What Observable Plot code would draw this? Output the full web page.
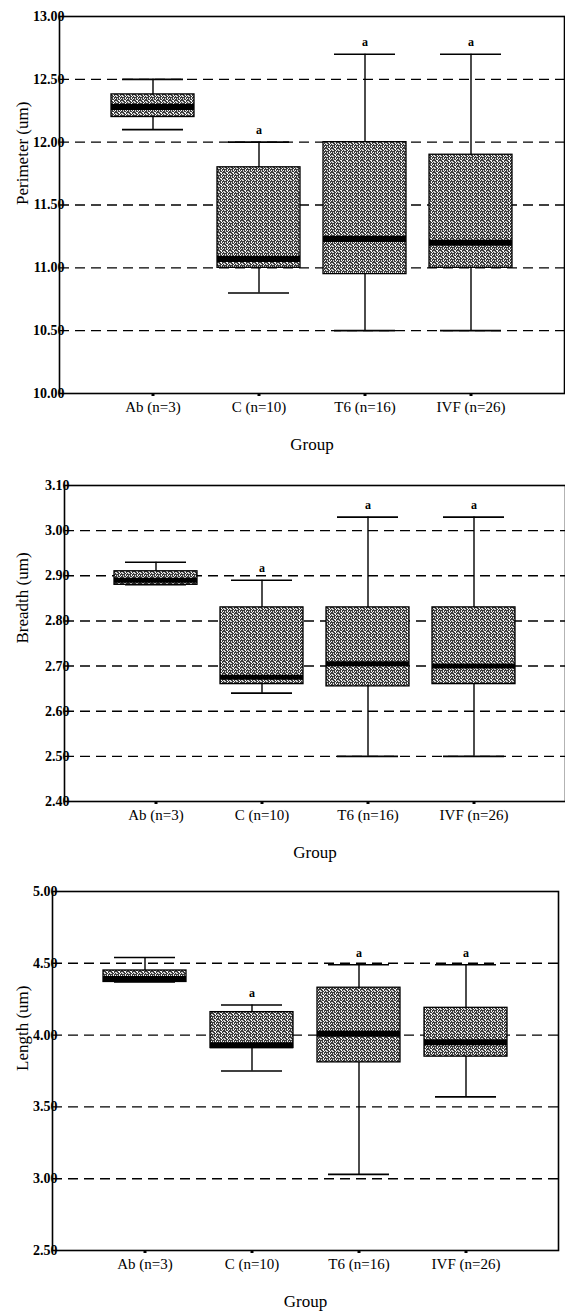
<!DOCTYPE html>
<html>
<head>
<meta charset="utf-8">
<script src="https://cdn.jsdelivr.net/npm/d3@7"></script>
<script src="https://cdn.jsdelivr.net/npm/@observablehq/plot@0.6"></script>
<style>
  html, body { margin: 0; padding: 0; background: #fff; }
  #charts svg { display: block; }
  #charts svg, #charts svg text { font-family: "Liberation Serif", "Times New Roman", serif !important; }
</style>
</head>
<body>
<svg width="0" height="0" style="position:absolute">
  <defs>
    <pattern id="speck" width="6" height="6" patternUnits="userSpaceOnUse">
      <rect width="6" height="6" fill="#3c3c3c"/>
      <rect x="0" y="0" width="1" height="1" fill="#f4f4f4"/>
      <rect x="2" y="0" width="2" height="1" fill="#d8d8d8"/>
      <rect x="5" y="1" width="1" height="2" fill="#eeeeee"/>
      <rect x="1" y="2" width="1" height="1" fill="#ffffff"/>
      <rect x="3" y="2" width="1" height="2" fill="#c8c8c8"/>
      <rect x="0" y="3" width="1" height="1" fill="#e6e6e6"/>
      <rect x="4" y="4" width="2" height="1" fill="#f2f2f2"/>
      <rect x="1" y="5" width="2" height="1" fill="#d2d2d2"/>
      <rect x="5" y="5" width="1" height="1" fill="#ffffff"/>
    </pattern>
  </defs>
</svg>
<div id="charts"></div>
<script>
// ---- data ----
const groups = ["Ab (n=3)", "C (n=10)", "T6 (n=16)", "IVF (n=26)"];
const sigLetters = ["", "a", "a", "a"];

// Perimeter (um)
const perimMin = [12.10, 10.80, 10.50, 10.50];
const perimQ1  = [12.20, 11.00, 10.95, 11.00];
const perimMed = [12.28, 11.07, 11.23, 11.20];
const perimQ3  = [12.38, 11.80, 12.00, 11.90];
const perimMax = [12.50, 12.00, 12.70, 12.70];
const perimTicks = [10.0, 10.5, 11.0, 11.5, 12.0, 12.5, 13.0];

// Breadth (um)
const breadthMin = [2.88, 2.64, 2.50, 2.50];
const breadthQ1  = [2.88, 2.66, 2.655, 2.66];
const breadthMed = [2.89, 2.675, 2.705, 2.70];
const breadthQ3  = [2.91, 2.83, 2.83, 2.83];
const breadthMax = [2.93, 2.89, 3.03, 3.03];
const breadthTicks = [2.4, 2.5, 2.6, 2.7, 2.8, 2.9, 3.0, 3.1];

// Length (um)
const lengthMin = [4.37, 3.75, 3.03, 3.57];
const lengthQ1  = [4.37, 3.91, 3.81, 3.85];
const lengthMed = [4.39, 3.93, 4.01, 3.95];
const lengthQ3  = [4.45, 4.16, 4.33, 4.19];
const lengthMax = [4.54, 4.21, 4.49, 4.49];
const lengthTicks = [2.5, 3.0, 3.5, 4.0, 4.5, 5.0];

const serif = "Liberation Serif, Times New Roman, serif";

function panel(cfg) {
  const rows = groups.map((g, i) => ({
    g, min: cfg.min[i], q1: cfg.q1[i], med: cfg.med[i], q3: cfg.q3[i], max: cfg.max[i], sig: sigLetters[i]
  }));
  const grid = cfg.ticks.slice(1, -1);
  return Plot.plot({
    width: 565,
    height: cfg.height,
    marginTop: cfg.mt, marginBottom: cfg.mb, marginLeft: cfg.ml, marginRight: cfg.mr,
    style: { fontFamily: serif, fontSize: "15px", color: "#000", background: "#fff" },
    x: { domain: groups, paddingInner: 0.22, paddingOuter: 0.47 },
    y: { domain: [cfg.ticks[0], cfg.ticks[cfg.ticks.length - 1]] },
    marks: [
      Plot.ruleY(grid, { stroke: "#000", strokeWidth: 1.4, strokeDasharray: "10,6" }),
      Plot.ruleX(rows, { x: "g", y1: "min", y2: "max", stroke: "#000", strokeWidth: 1.4 }),
      Plot.tickY(rows, { x: "g", y: "max", inset: 11, stroke: "#000", strokeWidth: 1.6 }),
      Plot.tickY(rows, { x: "g", y: "min", inset: 11, stroke: "#000", strokeWidth: 1.6 }),
      Plot.barY(rows, { x: "g", y1: "q1", y2: "q3", fill: "url(#speck)", stroke: "#000", strokeWidth: 1.3 }),
      Plot.tickY(rows, { x: "g", y: "med", stroke: "#000", strokeWidth: cfg.medW }),
      Plot.text(rows, { x: "g", y: "max", text: "sig", dy: -12, fontWeight: "bold", fontSize: 12, fill: "#000" }),
      Plot.frame({ stroke: "#000", strokeWidth: 1.6 }),
      Plot.axisY({
        ticks: cfg.ticks, tickFormat: d => d.toFixed(2), tickSize: 0, tickPadding: -5,
        fontSize: 14, fontWeight: "bold", label: null
      }),
      Plot.axisX({
        tickSize: 3, tickPadding: 5, strokeWidth: 3, fontSize: 15, label: null
      }),
      Plot.text([cfg.label], {
        frameAnchor: "left", rotate: -90, dx: -(cfg.ml - 22), fontSize: 17, text: d => d, fill: "#000"
      }),
      Plot.text(["Group"], {
        frameAnchor: "bottom", dy: 56, fontSize: 17, text: d => d, fill: "#000"
      })
    ]
  });
}

const root = document.getElementById("charts");
root.append(panel({
  min: perimMin, q1: perimQ1, med: perimMed, q3: perimQ3, max: perimMax, ticks: perimTicks,
  label: "Perimeter (um)", height: 465, mt: 16, mb: 72, ml: 59, mr: 1, medW: 6
}));
root.append(panel({
  min: breadthMin, q1: breadthQ1, med: breadthMed, q3: breadthQ3, max: breadthMax, ticks: breadthTicks,
  label: "Breadth (um)", height: 400, mt: 20, mb: 64, ml: 64, mr: 0, medW: 5
}));
root.append(panel({
  min: lengthMin, q1: lengthQ1, med: lengthMed, q3: lengthQ3, max: lengthMax, ticks: lengthTicks,
  label: "Length (um)", height: 450, mt: 26, mb: 65, ml: 52, mr: 7, medW: 6
}));
</script>
</body>
</html>
